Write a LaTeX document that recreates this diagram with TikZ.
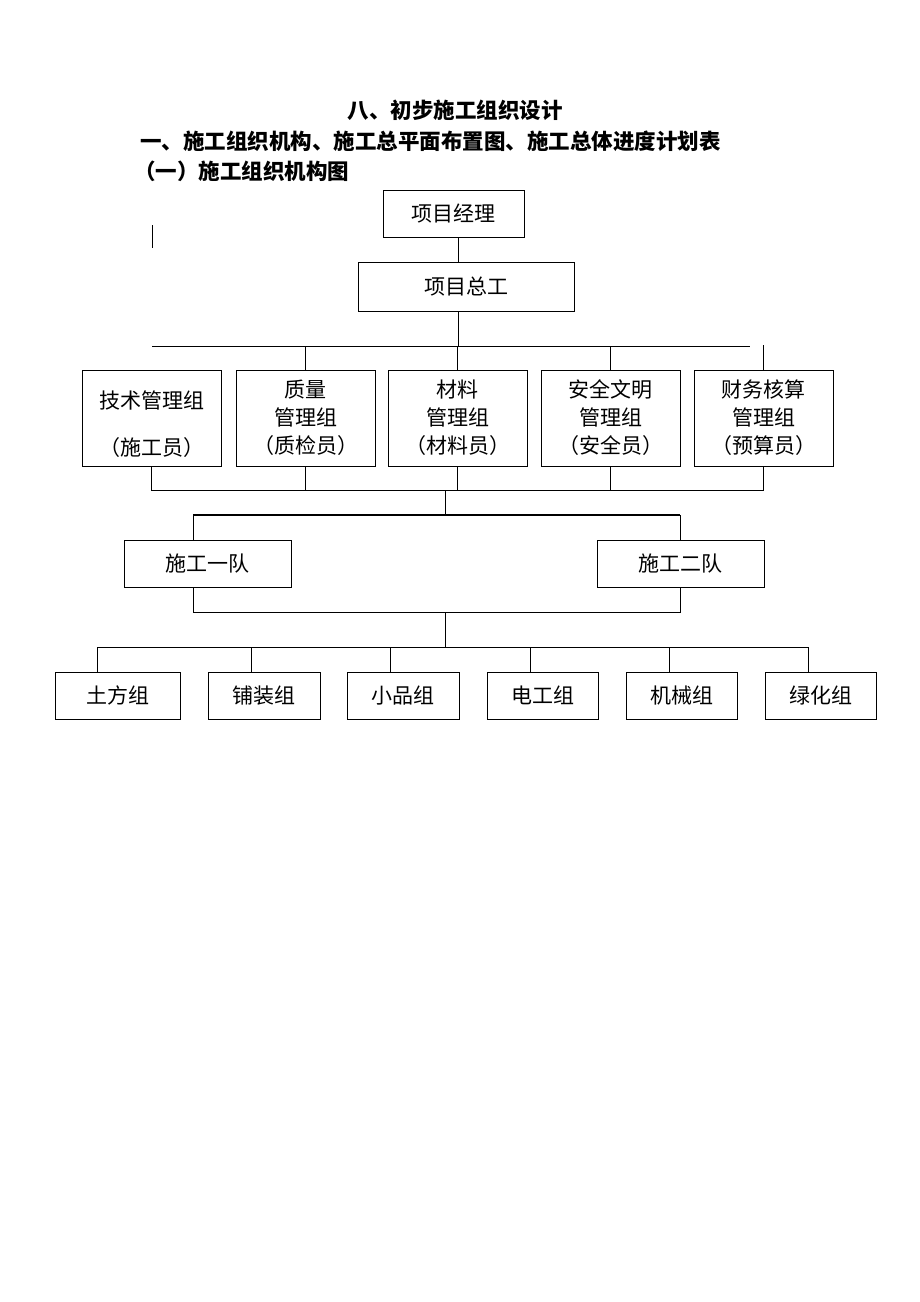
\documentclass[tikz,border=0pt]{standalone}
\usepackage{fontspec}
\setmainfont{Noto Sans CJK SC}
\begin{document}
\begin{tikzpicture}[x = 1pt, y = -1pt, line width = 0.9pt,
        box/.style = {draw, inner sep = 0pt, align = center, font = \fontsize{21}{28}\selectfont},
        heading/.style = {inner sep = 0pt, font = \fontsize{21.5}{26}\selectfont\bfseries}]
        \useasboundingbox (0,0) rectangle (920,1302);
        \begin{scope}[every node/.append style = {heading}]
            \node (title) at (455,110) {八、初步施工组织设计};
            \node[anchor = west] (part) at (140,141) {一、施工组织机构、施工总平面布置图、施工总体进度计划表};
            \node[anchor = west] (sect) at (134,171) {（一）施工组织机构图};
        \end{scope}
        \node[box, minimum width = 141pt, minimum height = 47pt] (pm) at (453.5,213.5) {项目经理};
        \node[box, minimum width = 216pt, minimum height = 49pt] (pe) at (466,286.5) {项目总工};
        \coordinate (markA) at (152,225);
        \coordinate (markB) at (152,248);
        \draw (markA) -- (markB);
        \coordinate (spine) at (458,346);
        \draw (pm.south -| spine) -- (pe.north -| spine);
        \draw (pe.south -| spine) -- (spine);
        % management groups
        \node[box, minimum width = 139pt, minimum height = 96pt] (g1) at (151.5,418) {\rule{0pt}{30pt}技术管理组\\[19pt]（施工员）};
        \foreach \i/\cx/\txt in {2/305.5/{质量\\管理组\\（质检员）}, 3/457.5/{材料\\管理组\\（材料员）},
                4/610.5/{安全文明\\管理组\\（安全员）}, 5/763.5/{财务核算\\管理组\\（预算员）}}
            \node[box, minimum width = 139pt, minimum height = 96pt] (g\i) at (\cx,418) {\txt};
        \coordinate (busA) at (152,346);
        \coordinate (busB) at (750,346);
        \coordinate (tick5) at (765,345);
        \draw (busA) -- (busB);
        \foreach \i in {2, 3, 4}
            \draw (g\i.north) -- (g\i.north |- busA);
        \draw (g5.north) -- (g5.north |- tick5);
        \coordinate (busC) at (445,490);
        \draw (g1.south) |- (g5.south |- busC) -- (g5.south);
        \foreach \i in {2, 3, 4}
            \draw (g\i.south) -- (g\i.south |- busC);
        % teams
        \node[box, minimum width = 167pt, minimum height = 47pt] (t1) at (207.5,563.5) {施工一队};
        \node[box, minimum width = 167pt, minimum height = 47pt] (t2) at (680.5,563.5) {施工二队};
        \coordinate (j1) at (193,515);
        \coordinate (j2) at (680,515);
        \coordinate (k1) at (193,612);
        \coordinate (k2) at (680,612);
        \draw (busC) -- (busC |- j1);
        \draw[line width = 2.4pt] (j1) -- (j2);
        \draw (j1) -- (j1 |- t1.north);
        \draw (j2) -- (j2 |- t2.north);
        \draw (j1 |- t1.south) -- (k1) -- (k2) -- (j2 |- t2.south);
        % work groups
        \foreach \i/\cx/\w/\tx/\txt in {1/117.5/125/97/土方组, 2/264/112/251/铺装组, 3/403/112/390/小品组,
                4/542.5/111/530/电工组, 5/681.5/111/669/机械组, 6/820.5/111/808/绿化组} {
            \node[box, minimum width = \w pt, minimum height = 47pt] (s\i) at (\cx,695.5) {\txt};
            \coordinate (f\i) at (\tx,647);
            \draw (f\i) -- (f\i |- s\i.north);
        }
        \draw (f1) -- (f6);
        \draw (busC |- k1) -- (busC |- f1);
    \end{tikzpicture}
\end{document}
